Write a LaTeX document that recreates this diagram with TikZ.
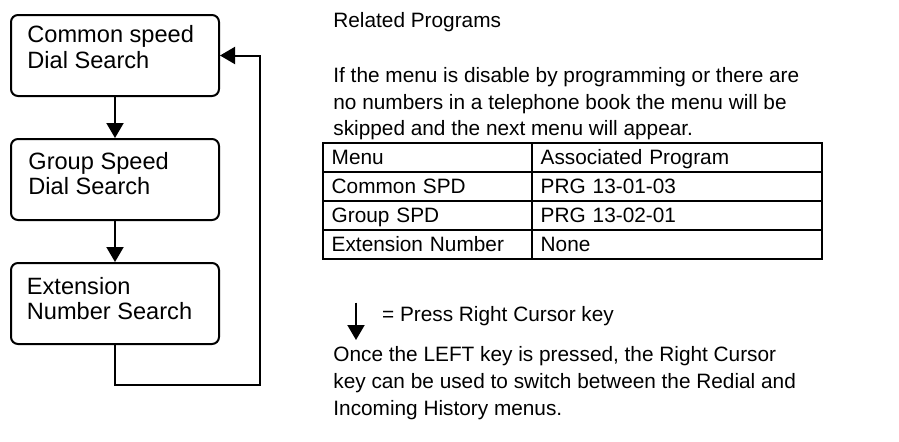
\documentclass[tikz,border=0pt]{standalone}
\usepackage{fontspec}
\setmainfont{Liberation Sans}
\usetikzlibrary{arrows.meta,positioning}

\begin{document}
\begin{tikzpicture}[x=0.5pt,y=-0.5pt,>={Triangle[length=7.5pt,width=8.5pt]},
  menubox/.style={draw,line width=1pt,rounded corners=3.5pt,minimum width=104pt,minimum height=40.5pt,anchor=north west,inner sep=0pt},
  boxtext/.style={anchor=north west,inner sep=0pt,align=left,font=\fontsize{11.8}{12.9}\selectfont},
  note/.style={anchor=north west,inner sep=0pt,align=left,font=\fontsize{10.4}{13.3}\selectfont},
  cell/.style={draw,line width=1pt,anchor=north west,outer sep=0pt,minimum height=14.5pt,inner xsep=4.5pt,inner ysep=0pt,text width=#1,align=left,text height=7.6pt,text depth=0pt,font=\fontsize{10.4}{12}\selectfont},
  flow/.style={->,line width=1pt}]
  \useasboundingbox (0,0) rectangle (899,441);
  \node[menubox] (common) at (10,14) {};
  \node[menubox] (group) at (10,138) {};
  \node[menubox] (extn) at (10,262) {};
  \node[boxtext] (commontxt) at ([shift={(17,11)}]common.north west) {Common speed\\Dial Search};
  \node[boxtext] (grouptxt) at ([shift={(18,13.5)}]group.north west) {Group Speed\\Dial Search};
  \node[boxtext] (extntxt) at ([shift={(16.5,14.5)}]extn.north west) {Extension\\Number Search};
  \draw[flow] (common) -- (group);
  \draw[flow] (group) -- (extn);
  \coordinate (loopturn) at (260,385);
  \draw[flow] (extn.south) |- (loopturn) |- (common.east);
  \node[note] (related) at (333,12) {Related Programs};
  \node[note] (skipnote) at (333,67) {If the menu is disable by programming or there are\\no numbers in a telephone book the menu will be\\skipped and the next menu will appear.};
  \node[cell=95.5pt] (menuhd) at (322.7,142.7) {Menu};
  \node[cell=136pt,right=0pt of menuhd] (proghd) {Associated Program};
  \node[cell=95.5pt,below=0pt of menuhd] (cspd) {Common SPD};
  \node[cell=136pt,right=0pt of cspd] (cprg) {PRG 13-01-03};
  \node[cell=95.5pt,below=0pt of cspd] (gspd) {Group SPD};
  \node[cell=136pt,right=0pt of gspd] (gprg) {PRG 13-02-01};
  \node[cell=95.5pt,below=0pt of gspd] (espd) {Extension Number};
  \node[cell=136pt,right=0pt of espd] (eprg) {None};
  \coordinate (keytop) at (356,302.7);
  \coordinate (keytip) at (356,340);
  \draw[flow] (keytop) -- (keytip);
  \node[note] (keynote) at (381.7,306.5) {= Press Right Cursor key};
  \node[note] (leftnote) at (333,346.5) {Once the LEFT key is pressed, the Right Cursor\\key can be used to switch between the Redial and\\Incoming History menus.};
\end{tikzpicture}
\end{document}
